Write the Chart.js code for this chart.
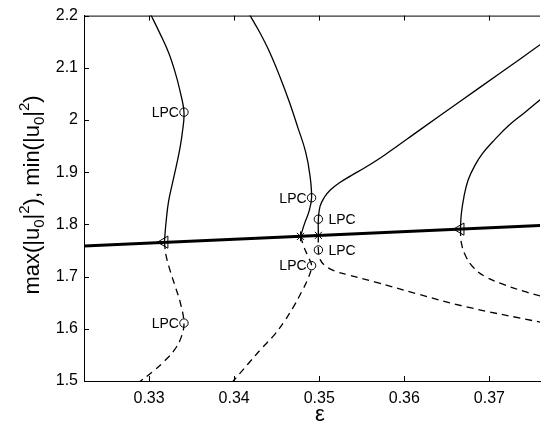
<!DOCTYPE html>
<html>
<head>
<meta charset="utf-8">
<script src="https://cdn.jsdelivr.net/npm/chart.js@4"></script>
<style>
  body { margin: 0; background: #fff; }
  canvas { display: block; }
</style>
</head>
<body>
<canvas id="bifChart" width="548" height="425"></canvas>
<script>
// axis ticks
const xTicks = [0.33, 0.34, 0.35, 0.36, 0.37];
const yTicks = [1.5, 1.6, 1.7, 1.8, 1.9, 2.0, 2.1, 2.2];

// equilibrium branch (thick)
const equilibrium = [[0.3222, 1.7585], [0.3762, 1.7979]];

// periodic branches: solid = stable, dashed = unstable  [eps, value]
const branch1Stable = [[0.3301, 2.205], [0.3313, 2.165], [0.3323, 2.129], [0.3330, 2.095], [0.3336, 2.058], [0.3341, 2.015], [0.3339, 1.975], [0.3335, 1.935], [0.3329, 1.890], [0.3323, 1.845], [0.3320, 1.805], [0.3318, 1.766]];
const branch1Unstable = [[0.3318, 1.766], [0.3320, 1.740], [0.3325, 1.710], [0.3331, 1.680], [0.3337, 1.648], [0.3341, 1.611], [0.3338, 1.585], [0.3330, 1.560], [0.3318, 1.538], [0.3305, 1.519], [0.3290, 1.500], [0.3285, 1.495]];
const branch2Stable = [[0.3417, 2.205], [0.3430, 2.168], [0.3442, 2.129], [0.3454, 2.082], [0.3465, 2.034], [0.3475, 1.985], [0.3484, 1.939], [0.3489, 1.895], [0.3491, 1.851], [0.3488, 1.825], [0.3483, 1.803], [0.3478, 1.777]];
const branch2Unstable = [[0.3478, 1.777], [0.3482, 1.757], [0.3487, 1.738], [0.3491, 1.721], [0.3487, 1.697], [0.3479, 1.670], [0.3469, 1.640], [0.3458, 1.612], [0.3447, 1.588], [0.3432, 1.562], [0.3416, 1.532], [0.3400, 1.502], [0.3396, 1.495]];
const branch3Stable = [[0.3499, 1.779], [0.3499, 1.810], [0.3501, 1.835], [0.3506, 1.852], [0.3513, 1.866], [0.3523, 1.879], [0.3537, 1.893], [0.3555, 1.910], [0.3577, 1.933], [0.3620, 1.983], [0.3665, 2.035], [0.3712, 2.089], [0.3762, 2.147]];
const branch3Unstable = [[0.3499, 1.779], [0.3499, 1.751], [0.3501, 1.733], [0.3507, 1.721], [0.3518, 1.711], [0.3535, 1.703], [0.3565, 1.690], [0.3615, 1.667], [0.3673, 1.642], [0.3762, 1.612]];
const branch4Stable = [[0.3666, 1.791], [0.3667, 1.820], [0.3670, 1.852], [0.3675, 1.885], [0.3683, 1.913], [0.3692, 1.936], [0.3706, 1.962], [0.3723, 1.990], [0.3742, 2.015], [0.3762, 2.042]];
const branch4Unstable = [[0.3666, 1.791], [0.3667, 1.765], [0.3672, 1.740], [0.3681, 1.718], [0.3695, 1.700], [0.3715, 1.686], [0.3740, 1.672], [0.3762, 1.662]];

// special points
const hopfPoints = [[0.3318, 1.766], [0.3666, 1.791]];
const branchPoints = [[0.3478, 1.777], [0.3499, 1.779]];
const lpcPoints = [[0.3341, 2.015], [0.3491, 1.851], [0.3499, 1.810], [0.3499, 1.751], [0.3491, 1.721], [0.3341, 1.611]];
const lpcSides = ['left', 'left', 'right', 'right', 'left', 'left'];

const toXY = arr => arr.map(([x, y]) => ({ x, y }));

function curve(points, dashed, width) {
  return {
    data: toXY(points),
    showLine: true,
    borderColor: '#000',
    borderWidth: width || 1.3,
    borderDash: dashed ? [7, 5] : [],
    pointRadius: 0,
    tension: 0.4,
    clip: 0
  };
}

function markers(points, style, radius, rotation) {
  return {
    data: toXY(points),
    showLine: false,
    pointStyle: style,
    pointRadius: radius,
    rotation: rotation || 0,
    borderColor: '#000',
    backgroundColor: 'rgba(0,0,0,0)',
    pointBorderWidth: 1
  };
}

const FONT = "'Liberation Sans', Arial, Helvetica, sans-serif";

const decorations = {
  id: 'decorations',
  afterDraw(chart) {
    const { ctx, chartArea: a, scales: { x, y } } = chart;
    ctx.save();
    ctx.strokeStyle = '#000';
    ctx.lineWidth = 1;
    // top border
    ctx.beginPath();
    ctx.moveTo(a.left, a.top + 0.5);
    ctx.lineTo(a.right, a.top + 0.5);
    ctx.stroke();
    // inward ticks
    ctx.beginPath();
    xTicks.forEach(v => {
      const px = Math.round(x.getPixelForValue(v)) + 0.5;
      ctx.moveTo(px, a.bottom); ctx.lineTo(px, a.bottom - 5);
      ctx.moveTo(px, a.top); ctx.lineTo(px, a.top + 5);
    });
    yTicks.forEach(v => {
      const py = Math.round(y.getPixelForValue(v)) + 0.5;
      ctx.moveTo(a.left, py); ctx.lineTo(a.left + 5, py);
    });
    ctx.stroke();

    // LPC labels
    ctx.fillStyle = '#000';
    ctx.font = '14px ' + FONT;
    ctx.textBaseline = 'middle';
    lpcPoints.forEach(([vx, vy], i) => {
      const px = x.getPixelForValue(vx);
      const py = y.getPixelForValue(vy) + 1;
      if (lpcSides[i] === 'left') {
        ctx.textAlign = 'right';
        ctx.fillText('LPC', px - 5, py);
      } else {
        ctx.textAlign = 'left';
        ctx.fillText('LPC', px + 10, py);
      }
    });

    // x axis title
    ctx.font = '22px ' + FONT;
    ctx.textAlign = 'center';
    ctx.textBaseline = 'alphabetic';
    ctx.fillText('ε', 320, 421);

    // y axis title with sub/superscripts
    const parts = [['max(|u', 0], ['0', 1], ['|', 0], ['2', -1], ['), min(|u', 0], ['0', 1], ['|', 0], ['2', -1], [')', 0]];
    const big = '22px ' + FONT, small = '15px ' + FONT;
    let total = 0;
    parts.forEach(([t, s]) => { ctx.font = s ? small : big; total += ctx.measureText(t).width; });
    ctx.translate(39, 195);
    ctx.rotate(-Math.PI / 2);
    ctx.textAlign = 'left';
    let cx = -total / 2;
    parts.forEach(([t, s]) => {
      ctx.font = s ? small : big;
      const dy = s === 1 ? 5 : (s === -1 ? -10 : 0);
      ctx.fillText(t, cx, dy);
      cx += ctx.measureText(t).width;
    });
    ctx.restore();
  }
};

new Chart(document.getElementById('bifChart').getContext('2d'), {
  type: 'scatter',
  data: {
    datasets: [
      curve(equilibrium, false, 3),
      curve(branch1Stable, false),
      curve(branch1Unstable, true),
      curve(branch2Stable, false),
      curve(branch2Unstable, true),
      curve(branch3Stable, false),
      curve(branch3Unstable, true),
      curve(branch4Stable, false),
      curve(branch4Unstable, true),
      markers(hopfPoints, 'triangle', 7, -90),
      markers(branchPoints, 'star', 5),
      markers(lpcPoints, 'circle', 4.2)
    ]
  },
  options: {
    responsive: false,
    animation: false,
    layout: { padding: { top: 12, right: 0, bottom: 0, left: 0 } },
    plugins: { legend: { display: false }, tooltip: { enabled: false } },
    scales: {
      x: {
        type: 'linear',
        min: 0.32235,
        max: 0.37595,
        afterFit: s => { s.height = 44; },
        afterBuildTicks: s => { s.ticks = xTicks.map(v => ({ value: v })); },
        grid: { display: false, drawTicks: false },
        border: { display: true, color: '#000', width: 1 },
        ticks: {
          color: '#000',
          padding: 8,
          font: { family: FONT, size: 16 },
          callback: v => String(Number(v.toFixed(2)))
        }
      },
      y: {
        type: 'linear',
        min: 1.5,
        max: 2.2,
        afterFit: s => { s.width = 84; },
        afterBuildTicks: s => { s.ticks = yTicks.map(v => ({ value: v })); },
        grid: { display: false, drawTicks: false },
        border: { display: true, color: '#000', width: 1 },
        ticks: {
          color: '#000',
          padding: 6,
          font: { family: FONT, size: 16 },
          callback: v => String(Number(v.toFixed(1)))
        }
      }
    }
  },
  plugins: [decorations]
});
</script>
</body>
</html>
